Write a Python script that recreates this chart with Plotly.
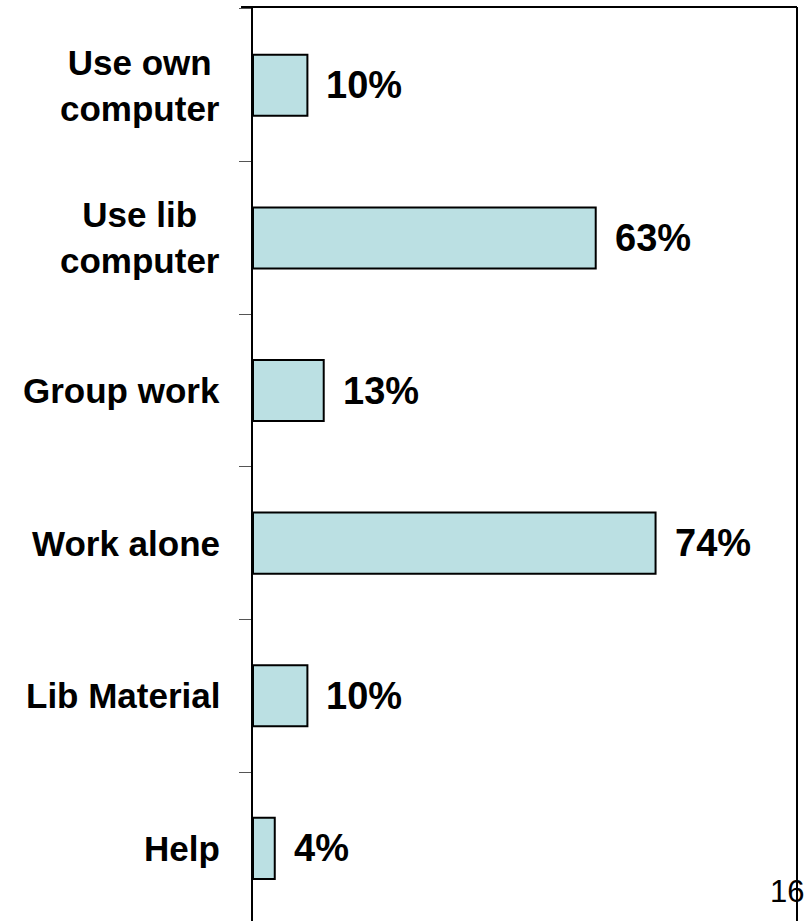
import plotly.graph_objects as go

categories = ["Use own computer", "Use lib computer", "Group work", "Work alone", "Lib Material", "Help"]
tick_labels = ["Use own<br>computer", "Use lib<br>computer", "Group work", "Work alone", "Lib Material", "Help"]
values = [10, 63, 13, 74, 10, 4]
page_number = "16"

FONT = "Liberation Sans, Arial, sans-serif"
BAR_COLOR = "#BBE0E3"

fig = go.Figure()
fig.add_trace(go.Bar(
    x=values,
    y=categories,
    orientation="h",
    width=0.4,
    marker=dict(color=BAR_COLOR, line=dict(color="black", width=2)),
    hoverinfo="skip",
))

annotations = []
for cat, lab in zip(categories, tick_labels):
    annotations.append(dict(
        x=0, xref="paper", y=cat, yref="y",
        text=lab, showarrow=False, xanchor="right", yanchor="middle",
        xshift=-31, align="center",
        font=dict(family=FONT, size=35, color="black", weight=700),
    ))
for cat, v in zip(categories, values):
    annotations.append(dict(
        x=v, xref="x", y=cat, yref="y",
        text=f"{v}%", showarrow=False, xanchor="left", yanchor="middle",
        xshift=17,
        font=dict(family=FONT, size=38, color="black", weight=700),
    ))
annotations.append(dict(
    x=0.947, xref="paper", y=0.032, yref="paper",
    text=page_number, showarrow=False, xanchor="left", yanchor="middle",
    font=dict(family=FONT, size=31, color="black"),
))

fig.update_layout(
    width=804, height=921,
    margin=dict(l=253, r=7, t=7, b=0, pad=0),
    paper_bgcolor="white", plot_bgcolor="white",
    showlegend=False,
    annotations=annotations,
    xaxis=dict(range=[0, 100], visible=False, fixedrange=True),
    yaxis=dict(
        type="category", categoryorder="array", categoryarray=categories,
        range=[5.476, -0.513], showticklabels=False,
        ticks="outside", tickson="boundaries", ticklen=12, tickwidth=1, tickcolor="#555",
        showline=True, linecolor="black", linewidth=2,
        showgrid=False, zeroline=False, fixedrange=True,
    ),
    shapes=[
        dict(type="line", xref="paper", yref="paper", x0=-0.022, x1=1, y0=1, y1=1,
             line=dict(color="black", width=2)),
        dict(type="line", xref="paper", yref="paper", x0=1, x1=1, y0=0, y1=1,
             line=dict(color="black", width=2)),
    ],
)

fig.write_html(
    "out.html",
    config={"displayModeBar": False},
    post_script="document.body.style.margin='0';document.body.style.overflow='hidden';",
)
